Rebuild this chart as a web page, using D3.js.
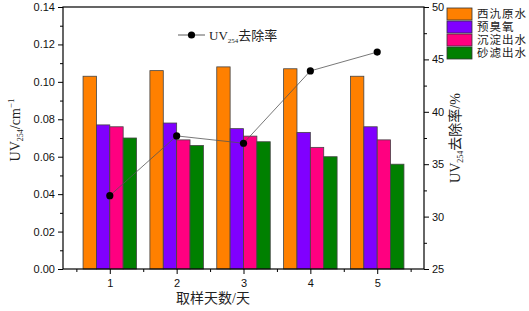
<!DOCTYPE html>
<html>
<head>
<meta charset="utf-8">
<script src="https://cdn.jsdelivr.net/npm/d3@7"></script>
<style>
  body { margin: 0; background: #fff; }
  svg { display: block; }
</style>
</head>
<body>
<div id="chart"></div>
<script>
// ---- data ----
const days = [1, 2, 3, 4, 5];
const seriesNames = ["西氿原水", "预臭氧", "沉淀出水", "砂滤出水"];
const seriesColors = ["#ff8000", "#8000ff", "#ff0080", "#008000"];
const rawWater = [0.103, 0.106, 0.108, 0.107, 0.103];
const preOzone = [0.077, 0.078, 0.075, 0.073, 0.076];
const settled = [0.076, 0.069, 0.071, 0.065, 0.069];
const filtered = [0.070, 0.066, 0.068, 0.060, 0.056];
const removalRate = [32.0, 37.7, 37.0, 43.9, 45.7];
const leftTicks = [0, 0.02, 0.04, 0.06, 0.08, 0.10, 0.12, 0.14];
const rightTicks = [25, 30, 35, 40, 45, 50];

const seriesValues = [rawWater, preOzone, settled, filtered];

// ---- layout ----
const W = 529, H = 311;
const margin = { top: 7, right: 105, bottom: 42, left: 63 };
const width = W - margin.left - margin.right;
const height = H - margin.top - margin.bottom;

const svg = d3.select("#chart").append("svg")
    .attr("width", W)
    .attr("height", H);

const g = svg.append("g")
    .attr("transform", `translate(${margin.left},${margin.top})`);

const x = d3.scaleLinear().domain([0.3, 5.7]).range([0, width]);
const y = d3.scaleLinear().domain([0, 0.14]).range([height, 0]);
const y2 = d3.scaleLinear().domain([25, 50]).range([height, 0]);

const barW = 0.2;
const tickFont = "Liberation Sans, Arial, sans-serif";
const labelFont = "Liberation Serif, 'Noto Sans CJK SC', serif";

// ---- bars ----
seriesValues.forEach((vals, si) => {
    g.selectAll(".bar-" + si)
        .data(days.map((d, i) => ({ day: d, v: vals[i] })))
        .join("rect")
        .attr("x", d => x(d.day - 0.4 + si * barW))
        .attr("width", x(barW) - x(0))
        .attr("y", d => y(d.v))
        .attr("height", d => height - y(d.v))
        .attr("fill", seriesColors[si])
        .attr("stroke", "#444")
        .attr("stroke-width", 0.8);
});

// ---- line on right axis ----
const lineData = days.map((d, i) => ({ day: d, v: removalRate[i] }));
g.append("path")
    .datum(lineData)
    .attr("fill", "none")
    .attr("stroke", "#555")
    .attr("stroke-width", 0.8)
    .attr("d", d3.line().x(d => x(d.day)).y(d => y2(d.v)));
g.selectAll(".pt")
    .data(lineData)
    .join("circle")
    .attr("cx", d => x(d.day))
    .attr("cy", d => y2(d.v))
    .attr("r", 3.6)
    .attr("fill", "#000");

// ---- axes ----
function styleAxis(sel) {
    sel.select(".domain").remove();
    sel.selectAll("line").attr("stroke", "#000").attr("stroke-width", 1);
    sel.selectAll("text")
        .attr("font-family", tickFont)
        .attr("font-size", "11px")
        .attr("fill", "#111");
}

// left
const leftAxis = g.append("g")
    .call(d3.axisLeft(y).tickValues(leftTicks).tickFormat(d3.format(".2f")).tickSize(5).tickPadding(3));
styleAxis(leftAxis);
g.append("g")
    .call(d3.axisLeft(y).tickValues(d3.range(0.01, 0.14, 0.02)).tickFormat("").tickSize(3))
    .call(styleAxis);

// right
const rightAxis = g.append("g")
    .attr("transform", `translate(${width},0)`)
    .call(d3.axisRight(y2).tickValues(rightTicks).tickSize(5).tickPadding(3));
styleAxis(rightAxis);
g.append("g")
    .attr("transform", `translate(${width},0)`)
    .call(d3.axisRight(y2).tickValues([27.5, 32.5, 37.5, 42.5, 47.5]).tickFormat("").tickSize(3))
    .call(styleAxis);

// bottom
const bottomAxis = g.append("g")
    .attr("transform", `translate(0,${height})`)
    .call(d3.axisBottom(x).tickValues(days).tickFormat(d3.format("d")).tickSize(5).tickPadding(5));
styleAxis(bottomAxis);
g.append("g")
    .attr("transform", `translate(0,${height})`)
    .call(d3.axisBottom(x).tickValues([0.5, 1.5, 2.5, 3.5, 4.5, 5.5]).tickFormat("").tickSize(3))
    .call(styleAxis);

// frame
g.append("rect")
    .attr("width", width)
    .attr("height", height)
    .attr("fill", "none")
    .attr("stroke", "#000")
    .attr("stroke-width", 1.2);

// ---- axis titles ----
const yl = svg.append("text")
    .attr("transform", `translate(20,${margin.top + height / 2 - 8}) rotate(-90)`)
    .attr("text-anchor", "middle")
    .attr("font-family", labelFont)
    .attr("font-size", "14px")
    .attr("fill", "#222");
yl.append("tspan").text("UV");
yl.append("tspan").attr("font-size", "8px").attr("dy", 3).text("254");
yl.append("tspan").attr("dy", -3).text("/cm");
yl.append("tspan").attr("font-size", "9px").attr("dy", -6).text("−1");

const yr = svg.append("text")
    .attr("transform", `translate(460,${margin.top + height / 2}) rotate(-90)`)
    .attr("text-anchor", "middle")
    .attr("font-family", labelFont)
    .attr("font-size", "14px")
    .attr("fill", "#222");
yr.append("tspan").text("UV");
yr.append("tspan").attr("font-size", "8px").attr("dy", 3).text("254");
yr.append("tspan").attr("dy", -3).text("去除率/%");

svg.append("text")
    .attr("x", 213)
    .attr("y", 303)
    .attr("text-anchor", "middle")
    .attr("font-family", labelFont)
    .attr("font-size", "14px")
    .attr("fill", "#222")
    .text("取样天数/天");

// ---- line legend ----
const ll = g.append("g").attr("transform", `translate(${178 - margin.left},${35 - margin.top})`);
ll.append("line").attr("x1", 0).attr("x2", 27).attr("stroke", "#333").attr("stroke-width", 0.8);
ll.append("circle").attr("cx", 13.5).attr("r", 3.6).attr("fill", "#000");
const llt = ll.append("text")
    .attr("x", 31)
    .attr("y", 5)
    .attr("font-family", labelFont)
    .attr("font-size", "13px")
    .attr("fill", "#222");
llt.append("tspan").text("UV");
llt.append("tspan").attr("font-size", "7px").attr("dy", 3).text("254");
llt.append("tspan").attr("dy", -3).text("去除率");

// ---- bar legend ----
const legend = svg.append("g").attr("transform", "translate(447,8)");
const items = legend.selectAll(".item")
    .data(seriesNames)
    .join("g")
    .attr("transform", (d, i) => `translate(0,${i * 13})`);
items.append("rect")
    .attr("width", 25)
    .attr("height", 12)
    .attr("fill", (d, i) => seriesColors[i])
    .attr("stroke", "#333")
    .attr("stroke-width", 0.8);
items.append("text")
    .attr("x", 30)
    .attr("y", 10)
    .attr("font-family", labelFont)
    .attr("font-size", "11.5px")
    .attr("letter-spacing", "1px")
    .attr("fill", "#222")
    .text(d => d);
</script>
</body>
</html>
